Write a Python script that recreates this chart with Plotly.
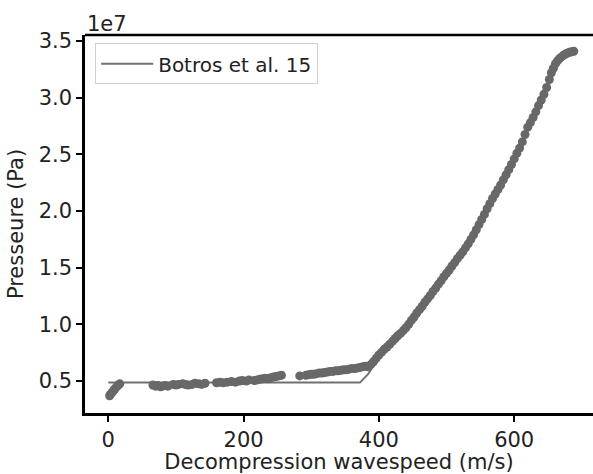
import plotly.graph_objects as go

# --- data (Pa values given in units of 1e6 Pa, converted below) ---
pts_x = [2, 3, 5, 7, 9, 11, 13, 15, 17,
         66, 70, 73, 77, 80, 84, 88,
         96, 100, 104, 110, 114, 118, 124, 128, 134, 138, 143,
         160, 165, 170, 176, 182, 188, 194, 198, 204, 208,
         216, 220, 224, 228, 232, 236, 240, 244, 248, 252, 256,
         283,
         292, 296, 300, 304, 308, 312, 316, 320, 324, 328, 332, 336, 340, 344,
         348, 352, 356, 360, 364, 368, 372, 376, 380,
         384, 388, 392, 396, 400, 404, 408, 412, 416, 420, 424, 428, 432, 436,
         440, 444, 448, 452, 456, 460, 464, 468, 472, 476, 480, 484, 488, 492,
         496, 500, 504, 508, 512, 516, 520, 524, 528, 532, 536, 540, 544, 548,
         552, 556, 560, 564, 568, 572, 576, 580, 584, 588, 592, 596, 600, 604,
         608, 612, 616, 620, 624, 628, 632, 636, 640, 644, 648, 652, 655, 658,
         661, 664, 667, 670, 673, 676, 679, 682, 685, 688]
pts_y = [3.7, 3.8, 3.95, 4.1, 4.25, 4.4, 4.55, 4.65, 4.75,
         4.65, 4.55, 4.6, 4.5, 4.55, 4.6, 4.55,
         4.7, 4.65, 4.7, 4.75, 4.7, 4.65, 4.7, 4.8, 4.75, 4.7, 4.8,
         4.85, 4.9, 4.85, 4.9, 4.95, 4.9, 5.0, 5.05, 5.0, 5.1,
         5.05, 5.1, 5.15, 5.2, 5.25, 5.2, 5.3, 5.35, 5.4, 5.45, 5.5,
         5.45,
         5.5, 5.55, 5.6, 5.6, 5.65, 5.7, 5.7, 5.75, 5.8, 5.85, 5.85, 5.9, 5.9, 5.95,
         6.0, 6.0, 6.05, 6.1, 6.1, 6.15, 6.2, 6.25, 6.3,
         6.25, 6.45, 6.7, 7.0, 7.3, 7.55, 7.8, 8.0, 8.25, 8.5, 8.75, 9.0, 9.2, 9.45,
         9.7, 10.0, 10.35, 10.65, 11.0, 11.3, 11.6, 11.95, 12.25, 12.55, 12.9, 13.2, 13.55, 13.85,
         14.2, 14.5, 14.8, 15.15, 15.45, 15.8, 16.1, 16.4, 16.75, 17.1, 17.5, 17.9, 18.35, 18.8,
         19.25, 19.7, 20.2, 20.65, 21.1, 21.5, 21.9, 22.3, 22.75, 23.2, 23.65, 24.1, 24.6, 25.1,
         25.55, 26.1, 26.75, 27.4, 27.8, 28.25, 28.75, 29.3, 29.8, 30.3, 30.9, 31.6, 32.2, 32.6,
         33.0, 33.25, 33.45, 33.6, 33.75, 33.85, 33.95, 34.0, 34.05, 34.1]

botros_x = [0, 372, 384, 400, 440, 480, 520, 560, 600, 640, 660, 676, 688]
botros_y = [4.86, 4.86, 5.6, 7.1, 9.6, 12.8, 16.0, 20.1, 24.5, 29.7, 32.9, 33.8, 34.1]

x_ticks = [0, 200, 400, 600]
y_ticks = [0.5, 1.0, 1.5, 2.0, 2.5, 3.0, 3.5]       # in units of 1e7 Pa
y_tick_labels = ["0.5", "1.0", "1.5", "2.0", "2.5", "3.0", "3.5"]

FONT = "DejaVu Sans"
FS = 21
TXT = "#222222"

fig = go.Figure()
fig.add_trace(go.Scatter(
    x=botros_x, y=[v * 1e6 for v in botros_y], mode="lines",
    name="Botros et al. 15", line=dict(color="#707070", width=2),
))
fig.add_trace(go.Scatter(
    x=pts_x, y=[v * 1e6 for v in pts_y], mode="markers", showlegend=False,
    marker=dict(color="#686868", size=9, line=dict(width=0)),
))

fig.update_layout(
    width=593, height=474,
    margin=dict(l=85, r=0, t=35, b=61),
    paper_bgcolor="white", plot_bgcolor="white",
    font=dict(family=FONT, size=FS, color=TXT),
    legend=dict(x=0.02, y=0.978, xanchor="left", yanchor="top",
                bgcolor="rgba(255,255,255,0.8)", bordercolor="#d0d0d0", borderwidth=1,
                font=dict(family=FONT, size=20, color=TXT),
                itemwidth=52, tracegroupgap=0, entrywidth=233, entrywidthmode="pixels"),
    shapes=[dict(type="line", xref="paper", yref="paper", x0=0, x1=1, y0=1, y1=1,
                 line=dict(color="black", width=2.5))],
    annotations=[dict(text="1e7", xref="paper", yref="paper", x=0.0, y=1.0,
                      xanchor="left", yanchor="bottom", showarrow=False,
                      font=dict(family=FONT, size=FS, color=TXT), yshift=-3)],
)
fig.update_xaxes(
    range=[-34.4, 716.5], tickvals=x_ticks, ticktext=[str(t) for t in x_ticks],
    showgrid=False, zeroline=False, showline=True, linecolor="black", linewidth=2.5,
    ticks="outside", ticklen=6, tickwidth=1.5, tickcolor="black",
    title=dict(text="Decompression wavespeed (m/s)", standoff=2,
               font=dict(family=FONT, size=FS, color=TXT)),
)
fig.update_yaxes(
    range=[2.18e6, 35.53e6], tickvals=[v * 1e7 for v in y_ticks], ticktext=y_tick_labels,
    showgrid=False, zeroline=False, showline=True, linecolor="black", linewidth=2.5,
    ticks="outside", ticklen=6, tickwidth=1.5, tickcolor="black",
    title=dict(text="Presseure (Pa)", standoff=10,
               font=dict(family=FONT, size=FS, color=TXT)),
)

fig.write_html("out.html", config={"displayModeBar": False},
               post_script="document.body.style.margin='0px';document.body.style.overflow='hidden';")
